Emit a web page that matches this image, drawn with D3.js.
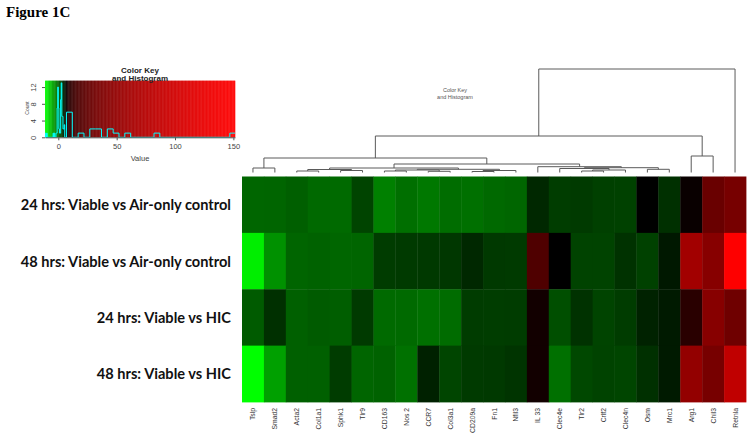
<!DOCTYPE html>
<html>
<head>
<meta charset="utf-8">
<script src="https://cdn.jsdelivr.net/npm/d3@7"></script>
<style>
  body { margin: 0; background: #fff; }
  svg { display: block; }
</style>
</head>
<body>
<svg id="chart" width="754" height="448"></svg>
<script>
// gene columns, in dendrogram order
var colNames = ["Tslp", "Smad2", "Acta2", "Col1a1", "Sphk1", "Tlr9", "CD163", "Nos 2", "CCR7",
  "Col3a1", "CD209a", "Fn1", "Nfil3", "IL 33", "Clec4e", "Tlr2", "Crlf2", "Clec4n", "Osm",
  "Mrc1", "Arg1", "Chil3", "Retnla"];

var rowNames = ["24 hrs: Viable vs Air-only control", "48 hrs: Viable vs Air-only control",
  "24 hrs: Viable vs HIC", "48 hrs: Viable vs HIC"];

// fold change per gene
var row24Air = [-0.2, -0.1, 0.3, -0.4, -0.5, 2.2, -2.0, -0.8, -1.5, -0.7, -0.9, -0.4, -0.2,
  4.2, 2.7, 2.9, 2.5, 2.4, 7.0, 3.6, 7.1, 27.5, 34];
var row48Air = [-9.8, -3.2, -0.1, 0.1, -0.2, -0.1, 2.8, 2.9, 3.0, 3.1, 4.2, 3.0, 2.9,
  18, 7.0, 2.3, 2.3, 3.5, 2.4, 5.3, 60, 42.6, 150];
var row24Hic = [0.6, 3.6, 0.2, 0.6, 0.4, 2.9, -0.5, -0.5, -0.9, -0.6, 2.8, 2.7, 2.8,
  7.4, 1.4, 3.5, 2.2, 2.8, 4.6, 5.2, 9.6, 42.6, 30];
var row48Hic = [-11, -4.3, 0.2, 0.2, 2.8, -0.1, 0.1, -1.0, 4.7, 2.1, 2.9, 3.0, 3.3,
  7.4, -0.9, 1.9, 2.3, 2.1, 3.6, 5.2, 50, 34, 84];
var cellValues = [row24Air, row48Air, row24Hic, row48Hic];

// column dendrogram, hclust style: negative = leaf (1-based), positive = earlier merge
var colMerge = [
  [-1, -2, 4.5], [-3, -4, 1.5], [-5, -6, 2.0], [2, 3, 3.0], [-7, -8, 1.5], [-9, -10, 1.2],
  [5, 6, 2.5], [-11, -12, 1.0], [8, -13, 2.0], [7, 9, 3.2], [4, 10, 4.5], [-16, -17, 1.5],
  [12, -18, 2.5], [-15, 13, 4.0], [-19, -20, 3.2], [14, 15, 4.8], [-14, 16, 5.8],
  [11, 17, 8.5], [1, 18, 14.5], [-21, -22, 16.5], [19, 20, 36.5], [21, -23, 103.5]
];

var keyTicks = [0, 50, 100, 150];
var countTicks = [0, 4, 8, 12];

var svg = d3.select("#chart");
svg.append("rect").attr("width", 754).attr("height", 448).attr("fill", "#fff");

// green -> black -> red, red half brightened like the original key
var vMin = -11.4, vMid = 7, vMax = 151.4;
var greenPart = d3.scaleLinear().domain([-11, vMid]).range(["#00ff00", "#000000"]).clamp(true);
var redPart = d3.scaleLinear().domain([vMid, 151]).range(["#000000", "#ff0000"])
  .interpolate(d3.interpolateRgb.gamma(2.2)).clamp(true);
function cellColor(v) { return v <= vMid ? greenPart(v) : redPart(v); }

svg.append("text")
  .attr("x", 6).attr("y", 17)
  .attr("font-family", "Liberation Serif, Times New Roman, serif")
  .attr("font-weight", "bold").attr("font-size", 15)
  .text("Figure 1C");

// heatmap
var x = d3.scaleBand().domain(d3.range(colNames.length)).range([242, 746]);
var y = d3.scaleBand().domain(d3.range(rowNames.length)).range([176.5, 402]);

var heat = svg.append("g");
cellValues.forEach(function(row, r) {
  heat.selectAll(".c" + r)
    .data(row)
    .enter().append("rect")
    .attr("x", function(d, c) { return x(c); })
    .attr("y", y(r))
    .attr("width", x.bandwidth() + 0.4)
    .attr("height", y.bandwidth() + 0.4)
    .attr("fill", function(d) { return cellColor(d); });
});

svg.selectAll(".rowlab")
  .data(rowNames)
  .enter().append("text")
  .attr("x", 231)
  .attr("y", function(d, i) { return y(i) + y.bandwidth() / 2 + 5.5; })
  .attr("text-anchor", "end")
  .attr("font-family", "Lato, Open Sans, sans-serif")
  .attr("font-weight", "bold").attr("font-size", 14.6)
  .attr("fill", "#111")
  .text(function(d) { return d; });

svg.selectAll(".collab")
  .data(colNames)
  .enter().append("text")
  .attr("transform", function(d, i) {
    return "translate(" + (x(i) + x.bandwidth() / 2 + 2.5) + ",408) rotate(-90)";
  })
  .attr("text-anchor", "end")
  .attr("font-family", "Liberation Sans, Arial, sans-serif")
  .attr("font-size", 6.8)
  .attr("fill", "#333")
  .text(function(d) { return d; });

// dendrogram
var dendY = d3.scaleLinear().domain([0, 103.5]).range([172.5, 69]);
var nodes = [];
function nodeAt(id) {
  if (id < 0) return { x: x(-id - 1) + x.bandwidth() / 2, h: 0 };
  return nodes[id - 1];
}
var dend = svg.append("g").attr("fill", "none").attr("stroke", "#5a5a5a").attr("stroke-width", 1);
colMerge.forEach(function(m) {
  var a = nodeAt(m[0]), b = nodeAt(m[1]);
  dend.append("path")
    .attr("d", "M" + a.x + "," + dendY(a.h) + "V" + dendY(m[2]) + "H" + b.x + "V" + dendY(b.h));
  nodes.push({ x: (a.x + b.x) / 2, h: m[2] });
});

// stray key title left over in the dendrogram panel
var stray = svg.append("g").attr("font-family", "Liberation Sans, Arial, sans-serif")
  .attr("font-size", 5.5).attr("fill", "#555").attr("text-anchor", "middle");
stray.append("text").attr("x", 455).attr("y", 92).text("Color Key");
stray.append("text").attr("x", 455).attr("y", 99).text("and Histogram");

// colour key with histogram
var keyX = d3.scaleLinear().domain([vMin, vMax]).range([45, 235]);
var keyTop = 80.7, keyBottom = 137.3;
var key = svg.append("g");
var steps = d3.range(vMin, vMax, 0.5);
key.selectAll("rect")
  .data(steps)
  .enter().append("rect")
  .attr("x", function(d) { return keyX(d); })
  .attr("y", keyTop)
  .attr("width", function(d) { return keyX(Math.min(d + 0.5, vMax)) - keyX(d) + 0.3; })
  .attr("height", keyBottom - keyTop)
  .attr("fill", function(d) { return cellColor(d + 0.25); });

var allValues = d3.merge(cellValues);
var thresholds = d3.range(-11, 7, 0.5).concat(d3.range(7, 152, 5));
var bins = d3.bin().domain([vMin, vMax]).thresholds(thresholds)(allValues);
var maxCount = d3.max(bins, function(b) { return b.length; });
var hy = d3.scaleLinear().domain([0, Math.max(maxCount, 12) * 1.04]).range([keyBottom, keyTop]);

var pts = bins.map(function(b) { return [keyX(b.x0), hy(b.length)]; });
var lastBin = bins[bins.length - 1];
pts.push([keyX(lastBin.x1), hy(lastBin.length)]);
key.append("path")
  .attr("d", d3.line().curve(d3.curveStepAfter)(pts))
  .attr("fill", "none").attr("stroke", "#00ffff").attr("stroke-width", 1);

var xAxis = key.append("g")
  .attr("transform", "translate(0," + keyBottom + ")")
  .call(d3.axisBottom(keyX).tickValues(keyTicks).tickSize(3).tickSizeOuter(0).tickPadding(3));
var yAxis = key.append("g")
  .attr("transform", "translate(45,0)")
  .call(d3.axisLeft(hy).tickValues(countTicks.filter(function(t) { return t <= hy.domain()[1]; }))
    .tickSize(3).tickSizeOuter(0));
yAxis.select(".domain").remove();
yAxis.selectAll("text")
  .attr("transform", "rotate(-90)")
  .attr("x", 0).attr("y", -9).attr("dy", 0)
  .attr("text-anchor", "middle");
[xAxis, yAxis].forEach(function(g) {
  g.selectAll("text").attr("font-family", "Liberation Sans, Arial, sans-serif")
    .attr("font-size", 7.5).attr("fill", "#444");
  g.selectAll("line, path").attr("stroke", "#555");
});

key.append("text")
  .attr("transform", "translate(29,108) rotate(-90)")
  .attr("text-anchor", "middle")
  .attr("font-family", "Liberation Sans, Arial, sans-serif")
  .attr("font-size", 5).attr("fill", "#444")
  .text("Count");
key.append("text")
  .attr("x", 140).attr("y", 161)
  .attr("text-anchor", "middle")
  .attr("font-family", "Liberation Sans, Arial, sans-serif")
  .attr("font-size", 7.5).attr("fill", "#444")
  .text("Value");

var keyTitle = key.append("g")
  .attr("font-family", "Liberation Sans, Arial, sans-serif")
  .attr("font-weight", "bold").attr("font-size", 8).attr("fill", "#222")
  .attr("text-anchor", "middle");
keyTitle.append("text").attr("x", 140).attr("y", 72.5).text("Color Key");
keyTitle.append("text").attr("x", 140).attr("y", 81).text("and Histogram");
</script>
</body>
</html>
